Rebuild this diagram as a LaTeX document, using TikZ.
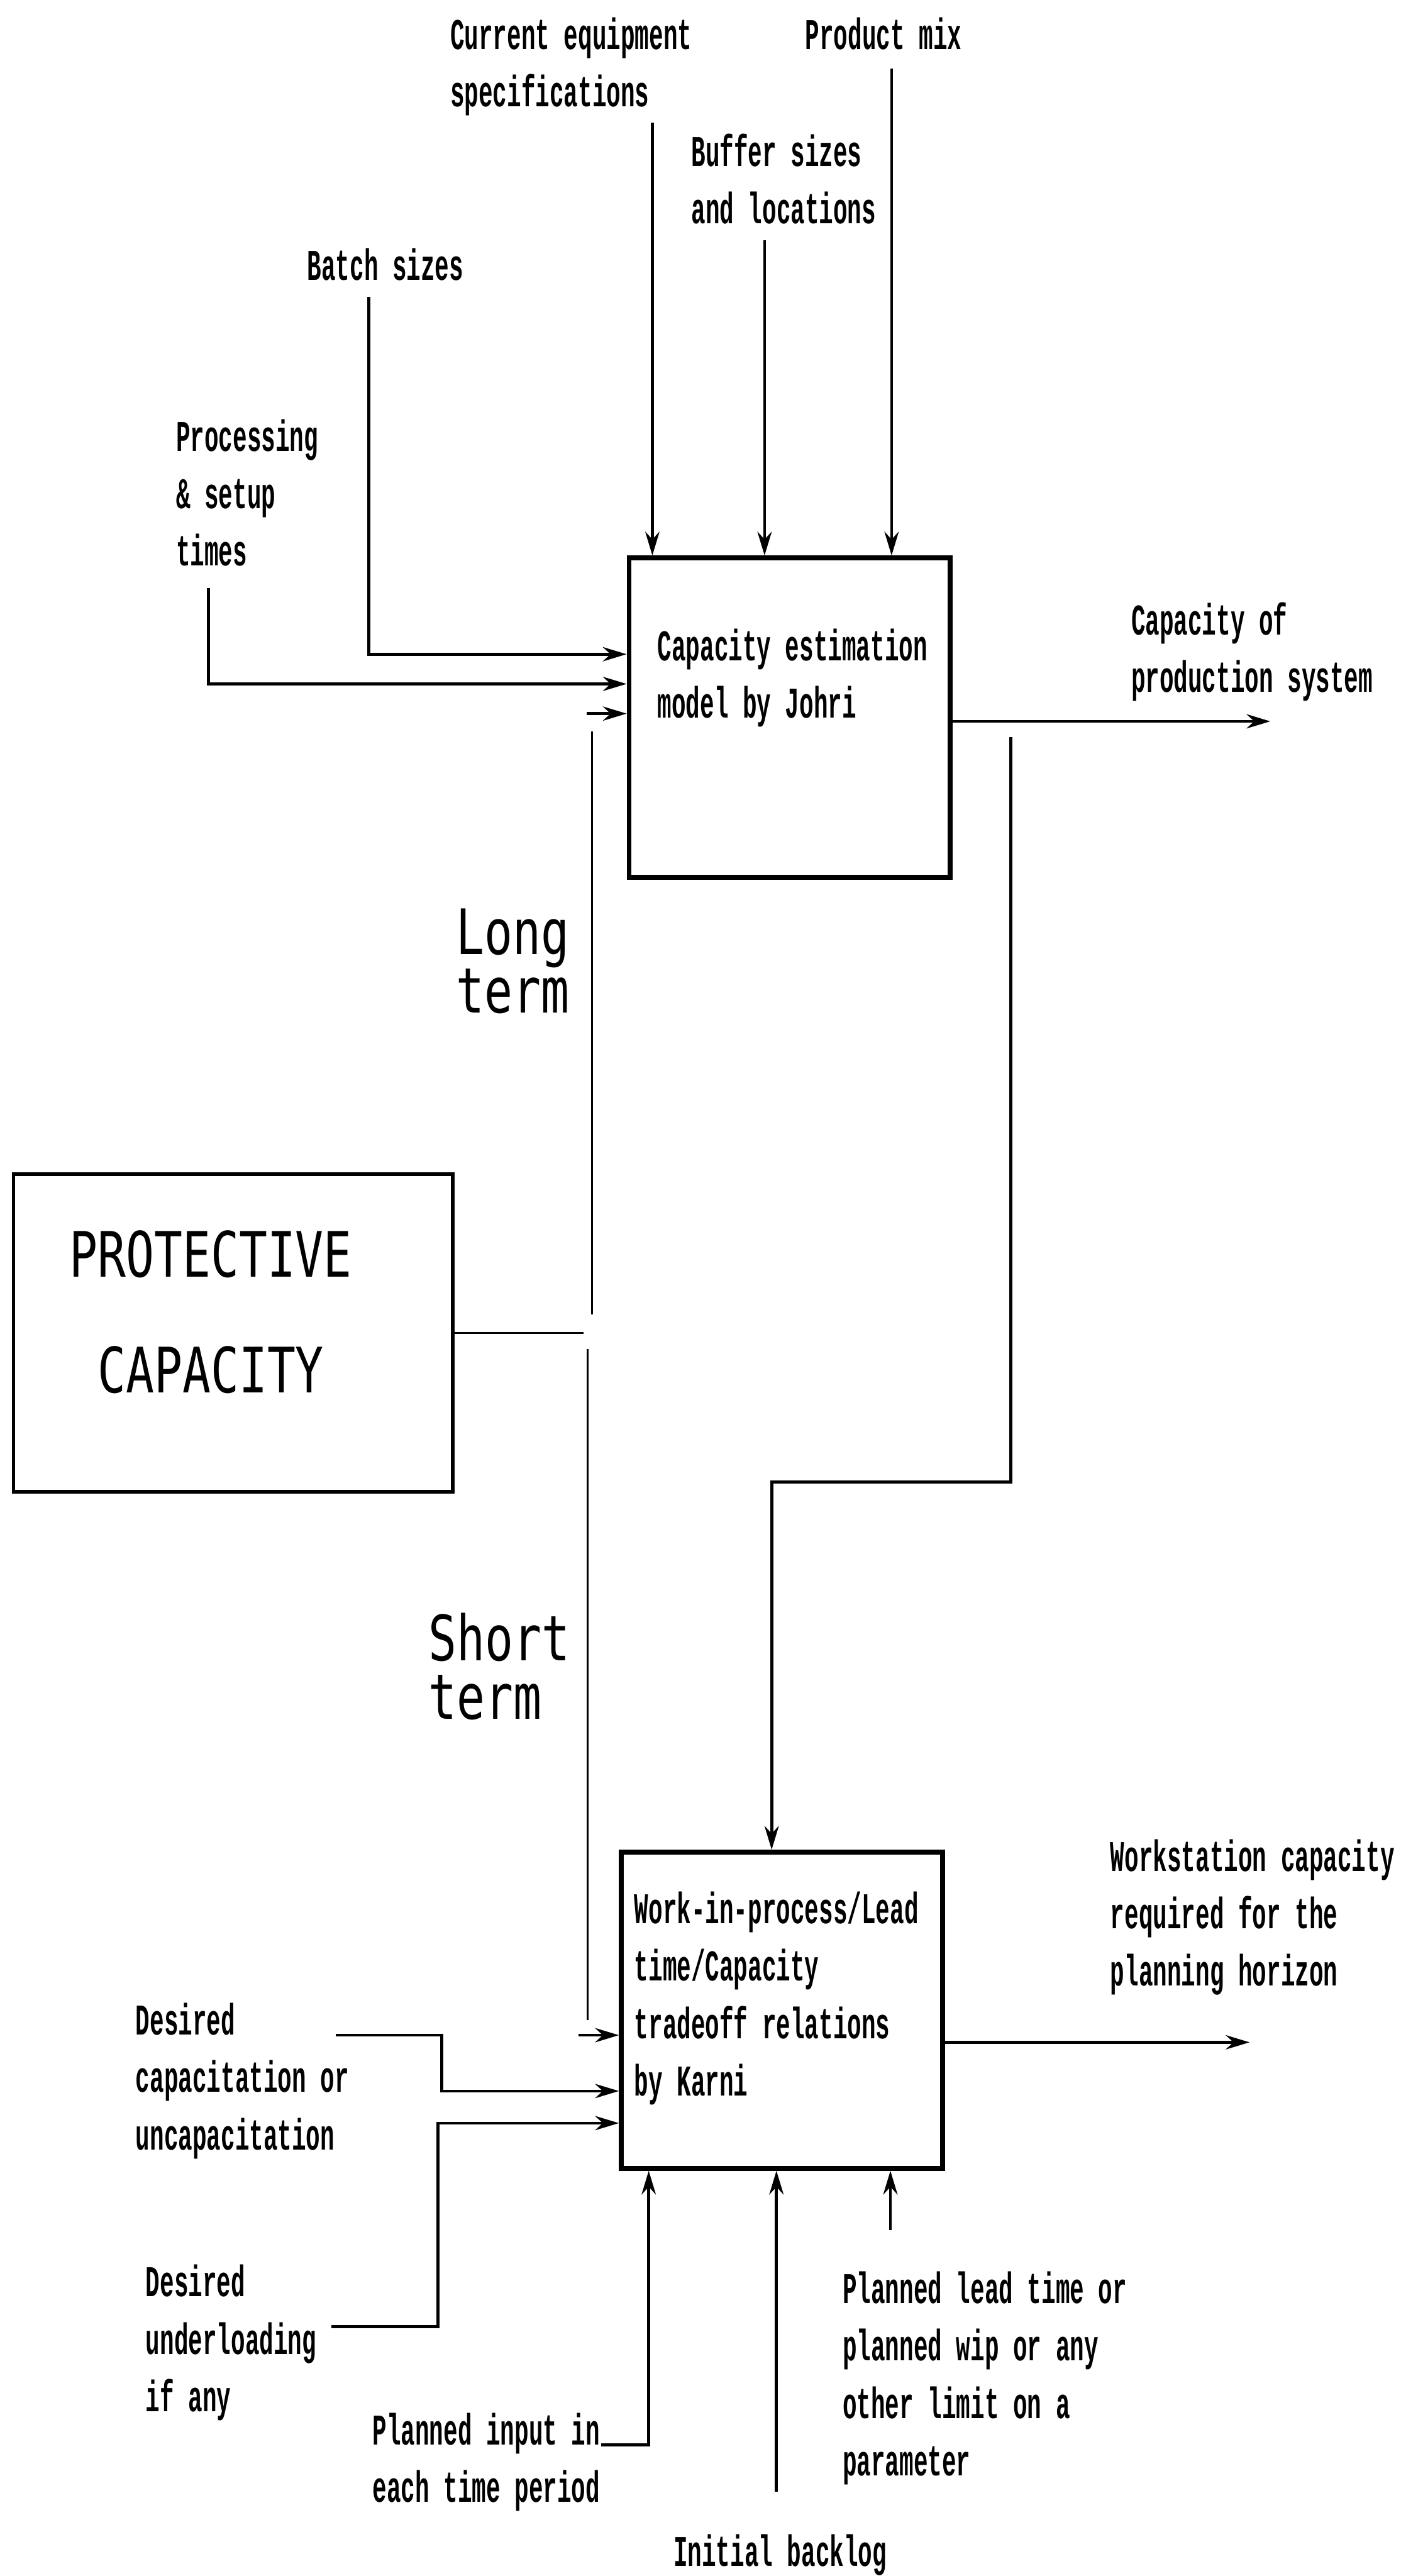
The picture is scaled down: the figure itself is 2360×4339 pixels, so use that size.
\documentclass[tikz,border=0pt]{standalone}
\usepackage{fontspec}
\usetikzlibrary{arrows.meta}
\newfontfamily\plotfont[FakeStretch=0.75]{DejaVu Sans Mono}
\newfontfamily\dotfont[FakeStretch=0.54]{Liberation Mono}
\tikzset{
  box/.style={draw, line width=2.4pt, inner sep=0pt},
  feed/.style={line width=1.4pt, -{Stealth[length=0.4cm,width=0.24cm]}},
  wire/.style={line width=1pt},
  lbl/.style={inner sep=0pt, anchor=base west, align=left,
    font=\dotfont\bfseries\fontsize{21}{27.5}\selectfont},
  term/.style={inner sep=0pt, anchor=base west, align=left,
    font=\plotfont\fontsize{30}{28}\selectfont},
}
\begin{document}
\begin{tikzpicture}[x=0.01cm, y=-0.01cm]
      \path[fill=white] (0,0) rectangle (2360,4339);
      % the three boxes
      \node[box, minimum width=5.4cm, minimum height=5.38cm] (johri) at (1330,1209) {};
      \node[box, minimum width=5.41cm, minimum height=5.32cm] (karni) at (1317.5,3386) {};
      \node[box, line width=1.8pt, minimum width=7.4cm, minimum height=5.35cm] (protect) at (393,2245) {};
      \node[inner sep=0pt, align=center, font=\plotfont\fontsize{30}{55.6}\selectfont]
        (protecttext) at (355,2210) {PROTECTIVE\\CAPACITY};
      % labels (base = last line)
      \node[lbl] (johritext) at (1107,1209) {Capacity estimation\\model by Johri};
      \node[lbl] (karnitext) at (1068,3530)
        {Work-in-process/Lead\\time/Capacity\\tradeoff relations\\by Karni};
      \node[lbl] (curr) at (758,180) {Current equipment\\specifications};
      \node[lbl] (mix) at (1356,83) {Product mix};
      \node[lbl] (buffer) at (1164,377) {Buffer sizes\\and locations};
      \node[lbl] (batch) at (517,472) {Batch sizes};
      \node[lbl] (proc) at (296,953) {Processing\\\& setup\\times};
      \node[lbl] (capout) at (1905,1166) {Capacity of\\production system};
      \node[term] (long) at (768,1706) {Long\\term};
      \node[term] (short) at (721,2896) {Short\\term};
      \node[lbl] (wsout) at (1870,3345) {Workstation capacity\\required for the\\planning horizon};
      \node[lbl] (descap) at (228,3621) {Desired\\capacitation or\\uncapacitation};
      \node[lbl] (desunder) at (245,4062) {Desired\\underloading\\if any};
      \node[lbl] (planin) at (627,4215) {Planned input in\\each time period};
      \node[lbl] (backlog) at (1134,4322) {Initial backlog};
      \node[lbl] (planlead) at (1419,4170)
        {Planned lead time or\\planned wip or any\\other limit on a\\parameter};
      % free ends
      \coordinate (currtop) at (1099,207);
      \coordinate (buftop) at (1288,405);
      \coordinate (mixtop) at (1502,115);
      \coordinate (batchtop) at (621,500);
      \coordinate (proctop) at (351,990);
      \coordinate (longstub) at (988,1202);
      \coordinate (longtop) at (997,1232);
      \coordinate (longbot) at (997,2214);
      \coordinate (junction) at (983,2245);
      \coordinate (shorttop) at (990,2272);
      \coordinate (shortbot) at (990,3402);
      \coordinate (shortstub) at (975,3428);
      \coordinate (capend) at (2140,1215);
      \coordinate (looptop) at (1703,1242);
      \coordinate (loopturn) at (1703,2496);
      \coordinate (capstart) at (566,3428);
      \coordinate (understart) at (558,3919);
      \coordinate (inputstart) at (1013,4118);
      \coordinate (backlogtop) at (1308,4197);
      \coordinate (leadtop) at (1500,3756);
      \coordinate (wsend) at (2105,3440);
      % connectors
      \begin{scope}[feed]
        \draw (currtop) -- (currtop |- johri.north);
        \draw (buftop) -- (buftop |- johri.north);
        \draw (mixtop) -- (mixtop |- johri.north);
        \draw (batchtop) |- ([yshift=1.07cm]johri.west);
        \draw (proctop) |- ([yshift=0.57cm]johri.west);
        \draw (longstub) -- (longstub -| johri.west);
        \draw (capend -| johri.east) -- (capend);
        \draw (looptop) -- (loopturn) -| ([xshift=-0.175cm]karni.north);
        \draw (shortstub) -- (shortstub -| karni.west);
        \draw (capstart) -- ++(178,0) |- ([yshift=-1.36cm]karni.west);
        \draw (understart) -- ++(180,0) |- ([yshift=-1.9cm]karni.west);
        \draw (inputstart) -| ([xshift=-2.245cm]karni.south);
        \draw (backlogtop) -- (backlogtop |- karni.south);
        \draw (leadtop) -- (leadtop |- karni.south);
        \draw (wsend -| karni.east) -- (wsend);
      \end{scope}
      \draw[wire] (longbot) -- (longtop);
      \draw[wire] (shorttop) -- (shortbot);
      \draw[wire] (protect.east) -- (junction);
\end{tikzpicture}
\end{document}
